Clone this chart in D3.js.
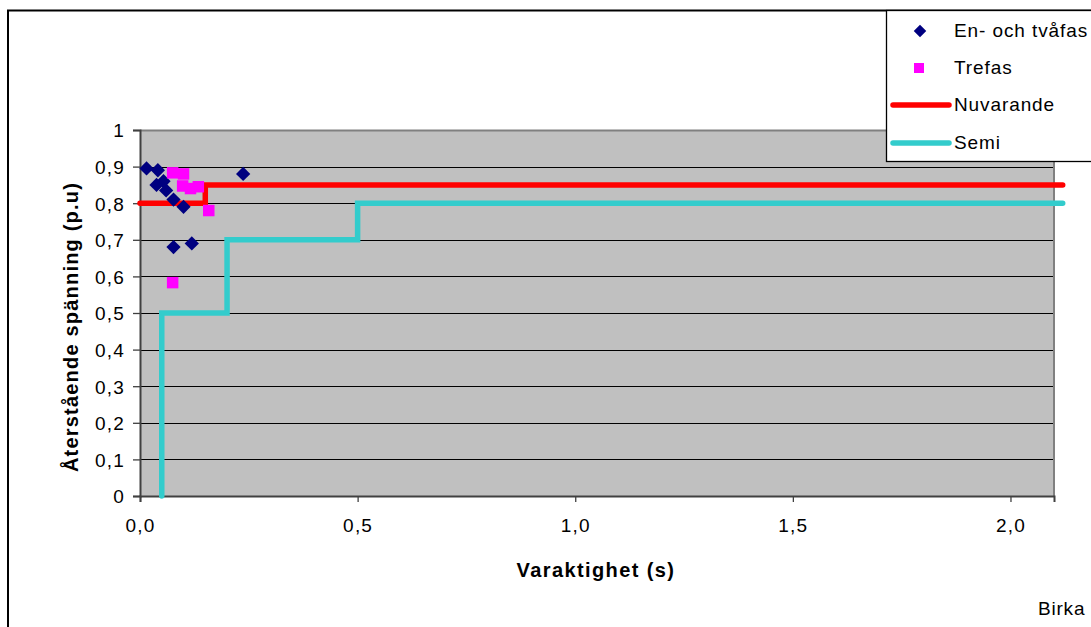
<!DOCTYPE html>
<html>
<head>
<meta charset="utf-8">
<script src="https://cdn.jsdelivr.net/npm/d3@7/dist/d3.min.js"></script>
<style>
  html, body { margin: 0; padding: 0; background: #fff; }
  svg { display: block; font-family: "Liberation Sans", Arial, sans-serif; }
</style>
</head>
<body>
<svg id="chart" width="1091" height="627"></svg>
<script>
// Durations (s) and residual voltages (p.u) of recorded dips
const enTvafasDuration = [0.015, 0.041, 0.038, 0.054, 0.060, 0.077, 0.100, 0.237, 0.077, 0.119];
const enTvafasVoltage  = [0.895, 0.890, 0.850, 0.860, 0.835, 0.810, 0.790, 0.880, 0.680, 0.690];

const trefasDuration = [0.075, 0.100, 0.098, 0.116, 0.134, 0.158, 0.075];
const trefasVoltage  = [0.883, 0.880, 0.847, 0.840, 0.845, 0.780, 0.583];

// Limit curves (step functions)
const nuvarandeDuration = [0, 0.15, 0.15, 2.12];
const nuvarandeVoltage  = [0.8, 0.8, 0.85, 0.85];

const semiDuration = [0.05, 0.05, 0.2, 0.2, 0.5, 0.5, 2.12];
const semiVoltage  = [0, 0.5, 0.5, 0.7, 0.7, 0.8, 0.8];

const xTicks = [0, 0.5, 1.0, 1.5, 2.0];
const yTicks = [0, 0.1, 0.2, 0.3, 0.4, 0.5, 0.6, 0.7, 0.8, 0.9, 1.0];

const legendLabels = ["En- och tvåfas", "Trefas", "Nuvarande", "Semi"];

const svg = d3.select("#chart");

// Outer chart frame
svg.append("rect")
  .attr("x", 8).attr("y", 10.5)
  .attr("width", 1200).attr("height", 700)
  .attr("fill", "#fff").attr("stroke", "#000").attr("stroke-width", 2);

const plot = { left: 140, top: 130, right: 1054, bottom: 496 };

const x = d3.scaleLinear().domain([0, 2.1]).range([plot.left, plot.right]);
const y = d3.scaleLinear().domain([0, 1]).range([plot.bottom, plot.top]);

// Plot area background
svg.append("rect")
  .attr("x", plot.left).attr("y", plot.top)
  .attr("width", plot.right - plot.left).attr("height", plot.bottom - plot.top)
  .attr("fill", "#c0c0c0");

// Horizontal gridlines
svg.append("g")
  .selectAll("line")
  .data(yTicks.filter(v => v > 0 && v < 1))
  .join("line")
  .attr("x1", plot.left).attr("x2", plot.right)
  .attr("y1", d => Math.round(y(d)) + 0.5).attr("y2", d => Math.round(y(d)) + 0.5)
  .attr("stroke", "#000").attr("stroke-width", 1);

// Plot area border (top and right)
svg.append("path")
  .attr("d", `M${plot.left},${plot.top + 0.5}H${plot.right}V${plot.bottom}`)
  .attr("fill", "none").attr("stroke", "#808080").attr("stroke-width", 2);

// Axes
const fmtX = d => d3.format(".1f")(d).replace(".", ",");
const fmtY = d => (d === 0 || d === 1) ? String(d) : d3.format(".1f")(d).replace(".", ",");

const yAxis = svg.append("g")
  .attr("transform", `translate(${plot.left},0)`)
  .call(d3.axisLeft(y).tickValues(yTicks).tickFormat(fmtY).tickSize(7).tickPadding(8));
const xAxis = svg.append("g")
  .attr("transform", `translate(0,${plot.bottom})`)
  .call(d3.axisBottom(x).tickValues(xTicks).tickFormat(fmtX).tickSize(6).tickPadding(17));

[yAxis, xAxis].forEach(ax => {
  ax.select(".domain").attr("stroke", "#404040").attr("stroke-width", 2);
  ax.selectAll(".tick line").attr("stroke", "#404040").attr("stroke-width", 1.3);
  ax.selectAll(".tick text")
    .attr("fill", "#000")
    .style("font-size", "19px")
    .style("letter-spacing", "1.2px")
    .style("font-family", "'Liberation Sans', Arial, sans-serif");
});
yAxis.selectAll(".tick text").attr("dy", "0.36em");
xAxis.selectAll(".tick text").attr("dy", "0.71em");

// Limit lines
const line = d3.line().x(d => x(d[0])).y(d => y(d[1]));

svg.append("path")
  .datum(d3.zip(nuvarandeDuration, nuvarandeVoltage))
  .attr("d", line)
  .attr("fill", "none").attr("stroke", "#ff0000").attr("stroke-width", 5.5)
  .attr("stroke-linecap", "round").attr("stroke-linejoin", "miter");

svg.append("path")
  .datum(d3.zip(semiDuration, semiVoltage))
  .attr("d", line)
  .attr("fill", "none").attr("stroke", "#33cccc").attr("stroke-width", 5.5)
  .attr("stroke-linecap", "round").attr("stroke-linejoin", "miter");

// Markers
const diamond = d3.symbol().type(d3.symbolDiamond2).size(130);
const square = d3.symbol().type(d3.symbolSquare).size(132);

svg.append("g")
  .selectAll("path")
  .data(d3.zip(enTvafasDuration, enTvafasVoltage))
  .join("path")
  .attr("transform", d => `translate(${x(d[0])},${y(d[1])})`)
  .attr("d", diamond)
  .attr("fill", "#000080");

svg.append("g")
  .selectAll("path")
  .data(d3.zip(trefasDuration, trefasVoltage))
  .join("path")
  .attr("transform", d => `translate(${x(d[0])},${y(d[1])})`)
  .attr("d", square)
  .attr("fill", "#ff00ff");

// Axis titles
svg.append("text")
  .attr("x", 596).attr("y", 577)
  .attr("text-anchor", "middle")
  .style("font-size", "20px").style("font-weight", "bold").style("letter-spacing", "1.4px")
  .text("Varaktighet (s)");

svg.append("text")
  .attr("transform", "translate(78,327) rotate(-90)")
  .attr("text-anchor", "middle")
  .style("font-size", "20px").style("font-weight", "bold").style("letter-spacing", "1.2px")
  .text("Återstående spänning (p.u)");

svg.append("text")
  .attr("x", 1038).attr("y", 615)
  .style("font-size", "19px").style("letter-spacing", "0.8px")
  .text("Birka");

// Legend
const legend = svg.append("g");
legend.append("rect")
  .attr("x", 886.5).attr("y", 10.5)
  .attr("width", 400).attr("height", 151)
  .attr("fill", "#fff").attr("stroke", "#000").attr("stroke-width", 1.3);

const rowY = [31, 68, 105, 143];
legend.append("path")
  .attr("transform", `translate(920,${rowY[0]})`)
  .attr("d", d3.symbol().type(d3.symbolDiamond2).size(100))
  .attr("fill", "#000080");
legend.append("path")
  .attr("transform", `translate(919,${rowY[1]})`)
  .attr("d", d3.symbol().type(d3.symbolSquare).size(100))
  .attr("fill", "#ff00ff");
legend.append("line")
  .attr("x1", 893).attr("x2", 949).attr("y1", rowY[2]).attr("y2", rowY[2])
  .attr("stroke", "#ff0000").attr("stroke-width", 5.5).attr("stroke-linecap", "round");
legend.append("line")
  .attr("x1", 893).attr("x2", 949).attr("y1", rowY[3]).attr("y2", rowY[3])
  .attr("stroke", "#33cccc").attr("stroke-width", 5.5).attr("stroke-linecap", "round");

legend.selectAll("text.lbl")
  .data(legendLabels)
  .join("text")
  .attr("class", "lbl")
  .attr("x", 954)
  .attr("y", (d, i) => rowY[i] + 6)
  .style("font-size", "19px").style("letter-spacing", "0.9px")
  .text(d => d);
</script>
</body>
</html>
